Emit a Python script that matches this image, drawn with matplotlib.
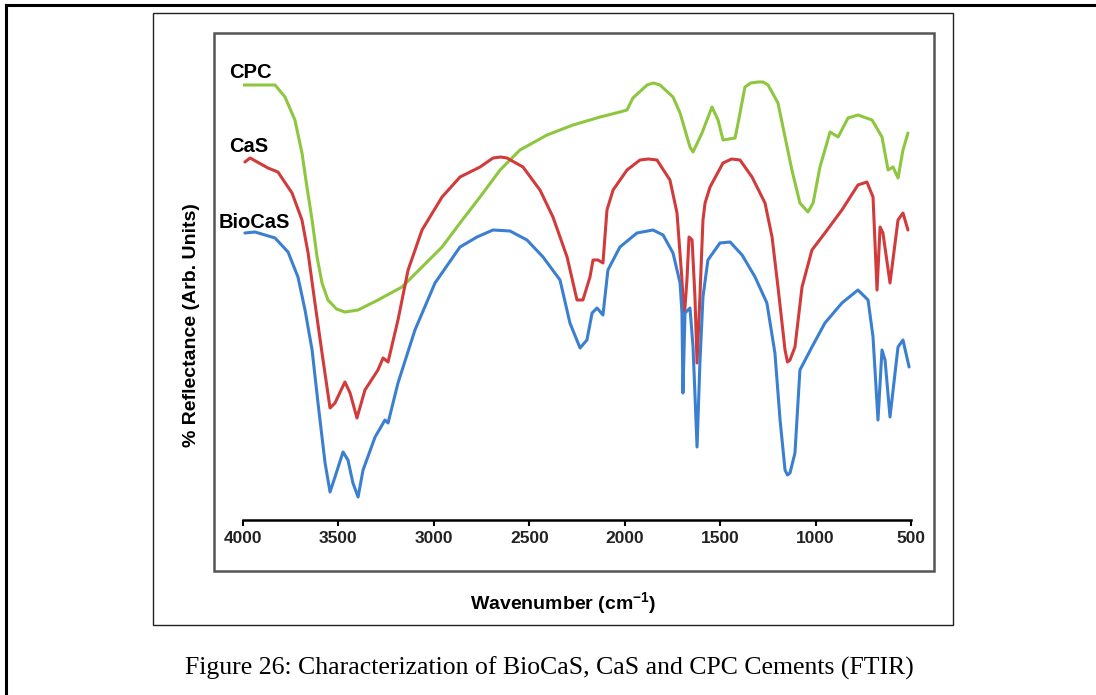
import matplotlib
matplotlib.use("Agg")
import matplotlib.pyplot as plt
from matplotlib.patches import Rectangle
from matplotlib.lines import Line2D

plt.rcParams['font.family'] = ['Liberation Sans', 'DejaVu Sans']
plt.rcParams['mathtext.fontset'] = 'custom'
plt.rcParams['mathtext.rm'] = 'Liberation Sans:bold'
plt.rcParams['mathtext.it'] = 'Liberation Sans:bold'
plt.rcParams['mathtext.bf'] = 'Liberation Sans:bold'

# ---------------- data (wavenumber cm^-1, reflectance arb. units) ----------------
cpc_wn = [4000, 3832, 3780, 3728, 3691, 3665, 3638, 3612, 3586, 3555, 3510, 3466, 3397, 3293,
          3167, 3062, 2957, 2863, 2758, 2653, 2549, 2407, 2271, 2129, 2025, 1988, 1957,
          1883, 1850, 1815, 1747, 1710, 1658, 1642, 1595, 1543, 1511, 1485, 1422, 1406, 1370,
          1340, 1302, 1275, 1249, 1197, 1160, 1124, 1082, 1040, 1013, 977, 924, 882, 830, 778,
          704, 652, 620, 594, 568, 542, 516]
cpc_r = [435, 435, 423, 400, 367, 333, 300, 263, 237, 220, 211, 208, 210, 220,
         233, 253, 273, 297, 323, 350, 370, 385, 395, 403, 408, 410, 422,
         435, 437, 435, 423, 407, 373, 368, 387, 413, 400, 380, 382, 397, 433,
         437, 438, 438, 435, 417, 383, 350, 317, 308, 317, 353, 388, 383, 402, 405,
         400, 383, 350, 353, 342, 370, 387]

cas_wn = [3990, 3963, 3869, 3817, 3743, 3691, 3659, 3623, 3586, 3544, 3518, 3466, 3439,
          3403, 3361, 3293, 3266, 3240, 3188, 3135, 3062, 2957, 2863, 2758, 2690, 2650, 2617,
          2533, 2444, 2376, 2302, 2250, 2219, 2182, 2166, 2140, 2114, 2093, 2061, 1988,
          1920, 1875, 1831, 1763, 1726, 1700, 1689, 1674, 1663, 1647, 1632, 1621, 1606, 1590,
          1579, 1553, 1485, 1440, 1396, 1333, 1265, 1228, 1197, 1160, 1147, 1134, 1108, 1071,
          1019, 951, 862, 778, 731, 699, 678, 662, 647, 610, 568, 542, 516]
cas_r = [358, 362, 352, 348, 327, 300, 267, 217, 167, 112, 117, 138, 127,
         102, 130, 150, 162, 158, 200, 250, 290, 323, 343, 353, 362, 363, 362,
         353, 330, 303, 263, 220, 220, 243, 260, 260, 257, 310, 330, 350,
         360, 361, 360, 340, 307, 240, 200, 240, 283, 280, 223, 157, 223, 300,
         317, 333, 357, 361, 360, 343, 317, 283, 233, 170, 158, 160, 173, 233,
         270, 287, 310, 335, 338, 323, 230, 293, 287, 237, 300, 307, 290]

bio_wn = [3990, 3937, 3832, 3764, 3712, 3675, 3638, 3607, 3570, 3544, 3518, 3476, 3450,
          3424, 3397, 3371, 3308, 3256, 3240, 3188, 3099, 2994, 2863, 2774, 2690, 2601,
          2512, 2428, 2339, 2287, 2234, 2198, 2171, 2145, 2114, 2088, 2025, 1936, 1852,
          1799, 1747, 1726, 1710, 1700, 1695, 1684, 1658, 1642, 1621, 1606, 1590, 1564,
          1501, 1448, 1385, 1317, 1255, 1213, 1186, 1160, 1147, 1134, 1108, 1082, 1019, 951,
          862, 778, 725, 699, 673, 652, 636, 610, 568, 542, 510]
bio_r = [287, 288, 282, 268, 243, 210, 170, 117, 57, 28, 43, 68, 60,
         37, 23, 50, 83, 100, 97, 137, 190, 237, 273, 283, 290, 289,
         280, 263, 240, 197, 172, 180, 207, 212, 205, 250, 273, 287, 290,
         285, 267, 250, 237, 207, 127, 207, 212, 173, 73, 157, 223, 260,
         277, 278, 265, 243, 217, 167, 100, 50, 45, 47, 67, 150, 173, 197,
         217, 230, 220, 183, 100, 170, 160, 103, 173, 180, 153]

series_names = ["CPC", "CaS", "BioCaS"]
series_colors = ["#8dc63f", "#d13b3b", "#3b7fd0"]
xticks = [4000, 3500, 3000, 2500, 2000, 1500, 1000, 500]

# ---------------- figure ----------------
W, H = 1096, 695
fig = plt.figure(figsize=(W / 100, H / 100), dpi=100)
fig.patch.set_facecolor("white")

def fx(px):
    return px / W

def fy(py):
    return 1 - py / H

# page border (top and left)
fig.add_artist(Line2D([fx(6), fx(1096)], [fy(5), fy(5)], color="black", lw=2.2,
                      transform=fig.transFigure))
fig.add_artist(Line2D([fx(6), fx(6)], [fy(5), fy(695)], color="black", lw=2.2,
                      transform=fig.transFigure))
# image box
fig.add_artist(Rectangle((fx(153), fy(625)), fx(953) - fx(153), fy(13) - fy(625),
                         fill=False, edgecolor="#222222", lw=1.0, transform=fig.transFigure))
# chart frame
fig.add_artist(Rectangle((fx(214), fy(571)), fx(934) - fx(214), fy(33) - fy(571),
                         fill=False, edgecolor="#555555", lw=1.8, transform=fig.transFigure))

ax = fig.add_axes([fx(243), fy(520), fx(911) - fx(243), fy(33) - fy(520)])
ax.set_facecolor("none")

for wn, r, c in zip([cpc_wn, cas_wn, bio_wn], [cpc_r, cas_r, bio_r], series_colors):
    ax.plot(wn, r, color=c, lw=2.2, solid_joinstyle="round", solid_capstyle="round")

ax.set_xlim(4000, 500)
ax.set_ylim(0, 487)
for s in ["left", "right", "top"]:
    ax.spines[s].set_visible(False)
ax.spines["bottom"].set_linewidth(1.8)
ax.set_yticks([])
ax.set_xticks(xticks)
ax.set_xticklabels([str(t) for t in xticks], fontsize=12.5, fontweight="bold", color="#222222")
ax.tick_params(axis="x", direction="out", length=4, width=1.5, pad=4)

# series labels
label_pos = [(229, 73), (229, 147), (219, 222)]
for name, (px, py) in zip(series_names, label_pos):
    fig.text(fx(px), fy(py), name, fontsize=14.5, fontweight="bold", ha="left", va="center")

fig.text(fx(563), fy(603), r"Wavenumber (cm$^{-1}$)", fontsize=14, fontweight="bold",
         ha="center", va="center")
fig.text(fx(192), fy(325), "% Reflectance (Arb. Units)", fontsize=14, fontweight="bold",
         ha="center", va="center", rotation=90)

fig.text(fx(549), fy(668), "Figure 26: Characterization of BioCaS, CaS and CPC Cements (FTIR)",
         fontsize=18.5, family=["Liberation Serif", "DejaVu Serif"], ha="center", va="center")

fig.savefig("out.png", dpi=100)
